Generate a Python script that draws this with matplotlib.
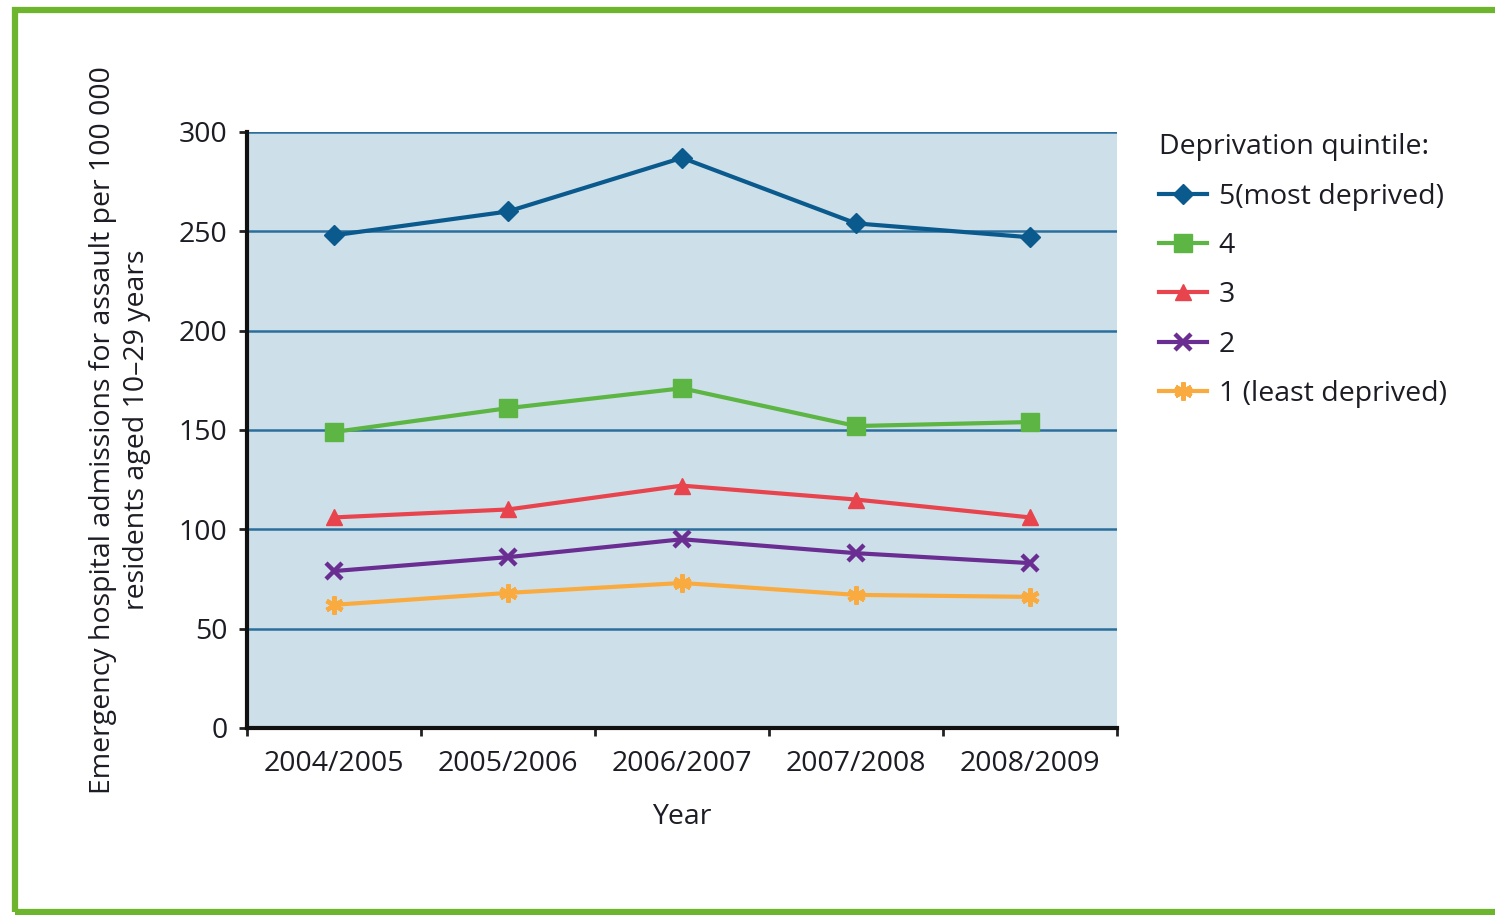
import matplotlib.pyplot as plt
from matplotlib.patches import Rectangle

# datos
years = ["2004/2005", "2005/2006", "2006/2007", "2007/2008", "2008/2009"]
q5 = [248, 260, 287, 254, 247]
q4 = [149, 161, 171, 152, 154]
q3 = [106, 110, 122, 115, 106]
q2 = [79, 86, 95, 88, 83]
q1 = [62, 68, 73, 67, 66]

labels = ["5(most deprived)", "4", "3", "2", "1 (least deprived)"]
colors = ["#0b5a8e", "#5db544", "#e8444d", "#6a2d91", "#f9ab40"]
markers = ["D", "s", "^", "x", (6, 2, 0)]
msizes = [10.5, 12.5, 12, 11, 13]

plt.rcParams['font.family'] = ['Open Sans', 'DejaVu Sans']
text_color = "#1c1c24"

fig = plt.figure(figsize=(14.95, 9.15), dpi=100)
fig.patches.append(Rectangle((15 / 1495, 3 / 915), 1.2, 1 - 13 / 915,
                             transform=fig.transFigure, fill=False,
                             edgecolor="#6cb52d", linewidth=4.5))

ax = fig.add_axes([247 / 1495, 1 - 728 / 915, 870 / 1495, 596 / 915])
ax.set_facecolor("#cde0ea")

x = list(range(len(years)))
for serie, lab, c, m, ms in zip([q5, q4, q3, q2, q1], labels, colors, markers, msizes):
    ax.plot(x, serie, color=c, linewidth=3, marker=m, markersize=ms,
            markeredgewidth=3.2 if m in ("x", (6, 2, 0)) else 1,
            markeredgecolor=c, markerfacecolor=c, label=lab, zorder=3)

ax.set_xlim(-0.5, len(years) - 0.5)
ax.set_ylim(0, 300)
ax.set_yticks(range(0, 301, 50))
for yv in range(50, 301, 50):
    ax.axhline(yv, color="#2b6e9c", linewidth=1.8, zorder=1)

ax.set_xticks(x)
ax.set_xticklabels(years)
ax.set_xticks([i - 0.5 for i in range(len(years) + 1)], minor=True)
ax.tick_params(axis='x', which='major', length=0, pad=16, labelsize=20.5, labelcolor=text_color)
ax.tick_params(axis='x', which='minor', length=6, width=2, direction='out', color="#222222")
ax.tick_params(axis='y', length=6, width=2, direction='out', pad=8, labelsize=20.5,
               labelcolor=text_color, color="#222222")

for s in ["top", "right"]:
    ax.spines[s].set_visible(False)
for s in ["left", "bottom"]:
    ax.spines[s].set_linewidth(3)
    ax.spines[s].set_color("#111111")

ax.set_xlabel("Year", fontsize=20.5, color=text_color, labelpad=18)
ax.set_ylabel("Emergency hospital admissions for assault per 100 000\nresidents aged 10\u201329 years",
              fontsize=20.5, color=text_color, labelpad=20, linespacing=1.3)

leg = ax.legend(loc="upper left", bbox_to_anchor=(1.035, 1.017), frameon=False,
                title="Deprivation quintile:", fontsize=20.5, title_fontsize=20.5,
                handlelength=1.7, handletextpad=0.4, labelspacing=0.75,
                alignment="left", borderaxespad=0)
for t in leg.get_texts():
    t.set_color(text_color)
leg.get_title().set_color(text_color)

fig.savefig("out.png", dpi=100)
